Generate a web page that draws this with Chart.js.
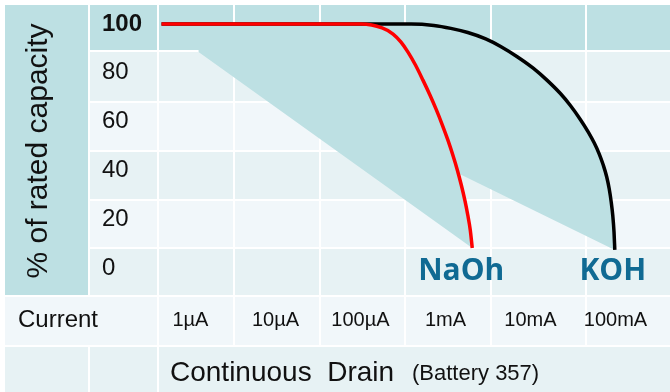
<!DOCTYPE html>
<html>
<head>
<meta charset="utf-8">
<script src="https://cdn.jsdelivr.net/npm/chart.js@4.4.1/dist/chart.umd.min.js"></script>
<style>
  html, body { margin: 0; padding: 0; background: #fff; }
</style>
</head>
<body>
<canvas id="drain-chart" width="670" height="392"></canvas>
<script>
// drain current in µA, capacity in % of rated
const seriesNames = ['NaOh', 'KOH'];
const naohCurrent = [0.33, 73.7, 129.8, 174.7, 216.7, 261.8, 320.4, 392.4, 474.1, 564.8, 664.1, 770.2, 881.7, 995.5, 1108.8, 1218.6, 1321.6, 1414, 1492];
const naohCapacity = [100, 100, 98.4, 95.9, 92.6, 88.5, 83.2, 77.0, 70.9, 64.8, 58.6, 52.5, 46.3, 40.2, 34.0, 27.9, 21.7, 15.6, 8.2];
const kohCurrent = [0.33, 284, 528, 835, 1322, 2148, 3219, 5093, 7844, 11446, 16250, 21290, 27870, 34600, 40680, 46560, 51860, 57000, 60990, 64360, 67200, 69410, 70920];
const kohCapacity = [100, 100, 99.4, 98.2, 96.5, 93.9, 90.8, 86.5, 81.8, 76.8, 71.5, 66.6, 60.9, 55.7, 51.2, 46.7, 42.2, 37.3, 32.4, 27.0, 21.3, 14.8, 7.4];

// straight lower edges of the shaded bands
const naohEdgeCurrent = [0.9, 1492];
const naohEdgeCapacity = [88.5, 8.2];
const kohEdgeCurrent = [126, 70920];
const kohEdgeCapacity = [54.3, 7.4];

const tickCurrents = [1, 10, 100, 1000, 10000, 100000];
const tickLabels = ['1µA', '10µA', '100µA', '1mA', '10mA', '100mA'];
const capacityTicks = [0, 20, 40, 60, 80, 100];

const TEAL = '#bde0e3';
const ROW_A = '#e7f2f4';
const ROW_B = '#f1f7fa';
const TEXT = '#111';
const labelShift = [-11, -2];

function pts(xs, ys) {
    return xs.map((x, i) => ({x: x, y: ys[i]}));
}

// slide-style table behind the plot
const tablePlugin = {
    id: 'table',
    beforeDraw(chart) {
        const ctx = chart.ctx;
        ctx.save();
        ctx.fillStyle = '#fff';
        ctx.fillRect(0, 0, chart.width, chart.height);

        const rows = [
            [5, 50, TEAL], [52, 101, ROW_A], [103, 150, ROW_B], [152, 199, ROW_A],
            [201, 247, ROW_B], [249, 295, ROW_A], [297, 345, ROW_B], [347, 392, ROW_A]
        ];
        rows.forEach(r => {
            ctx.fillStyle = r[2];
            ctx.fillRect(5, r[0], 665, r[1] - r[0]);
        });
        ctx.fillStyle = TEAL;
        ctx.fillRect(5, 5, 83, 290);

        ctx.fillStyle = '#fff';
        [234, 320, 405, 491, 586].forEach(x => ctx.fillRect(x - 1, 5, 2, 340));
        ctx.fillRect(157, 5, 2, 387);
        ctx.fillRect(88, 5, 2, 290);
        ctx.fillRect(88, 347, 2, 45);

        ctx.fillStyle = TEXT;
        ctx.textBaseline = 'alphabetic';

        ctx.save();
        ctx.translate(47, 151);
        ctx.rotate(-Math.PI / 2);
        ctx.textAlign = 'center';
        ctx.font = '30px "Liberation Sans"';
        ctx.fillText('% of rated capacity', 0, 0);
        ctx.restore();

        ctx.textAlign = 'left';
        ctx.font = '24px "Liberation Sans"';
        ctx.fillText('Current', 18, 327);
        ctx.font = '28px "Liberation Sans"';
        ctx.fillText('Continuous  Drain', 170, 381);
        ctx.font = '22px "Liberation Sans"';
        ctx.fillText('(Battery 357)', 412, 380);
        ctx.restore();
    },
    afterDatasetsDraw(chart) {
        const ctx = chart.ctx;
        const base = chart.scales.y.getPixelForValue(0);
        ctx.save();
        ctx.font = 'bold 30px "Open Sans"';
        ctx.fillStyle = '#106a93';
        ctx.textAlign = 'center';
        ctx.textBaseline = 'alphabetic';
        seriesNames.forEach((name, i) => {
            const data = chart.getDatasetMeta(i).data;
            const end = data[data.length - 1];
            ctx.fillText(name, end.x + labelShift[i], base + 12);
        });
        ctx.restore();
    }
};

const canvas = document.getElementById('drain-chart').getContext('2d');
new Chart(canvas, {
    type: 'line',
    data: {
        datasets: [{
            label: seriesNames[0],
            data: pts(naohCurrent, naohCapacity),
            borderColor: '#ff0000',
            borderWidth: 3.5,
            fill: {target: 2},
            backgroundColor: TEAL,
            cubicInterpolationMode: 'monotone',
            pointRadius: 0,
            clip: false
        }, {
            label: seriesNames[1],
            data: pts(kohCurrent, kohCapacity),
            borderColor: '#000',
            borderWidth: 3.5,
            fill: {target: 3},
            backgroundColor: TEAL,
            cubicInterpolationMode: 'monotone',
            pointRadius: 0,
            clip: false
        }, {
            label: 'edge1',
            data: pts(naohEdgeCurrent, naohEdgeCapacity),
            borderWidth: 0,
            borderColor: 'rgba(0,0,0,0)',
            pointRadius: 0,
            fill: false
        }, {
            label: 'edge2',
            data: pts(kohEdgeCurrent, kohEdgeCapacity),
            borderWidth: 0,
            borderColor: 'rgba(0,0,0,0)',
            pointRadius: 0,
            fill: false
        }]
    },
    options: {
        responsive: false,
        animation: false,
        layout: {padding: {left: 102, top: 24, right: 0, bottom: 0}},
        plugins: {
            legend: {display: false},
            tooltip: {enabled: false},
            filler: {drawTime: 'beforeDatasetsDraw'}
        },
        scales: {
            x: {
                type: 'logarithmic',
                min: Math.pow(10, -0.5),
                max: Math.pow(10, 5.5),
                grid: {display: false, drawTicks: false},
                border: {display: false},
                afterBuildTicks: s => { s.ticks = tickCurrents.map(v => ({value: v})); },
                afterFit: s => { s.height = 124; s.paddingLeft = 0; s.paddingRight = 0; },
                ticks: {
                    autoSkip: false,
                    maxRotation: 0,
                    padding: 40,
                    labelOffset: -12,
                    color: TEXT,
                    font: {family: 'Liberation Sans', size: 20},
                    callback: (v, i) => tickLabels[i]
                }
            },
            y: {
                min: 0,
                max: 100,
                grid: {display: false, drawTicks: false},
                border: {display: false},
                afterBuildTicks: s => { s.ticks = capacityTicks.map(v => ({value: v})); },
                afterFit: s => { s.width = 56; s.paddingTop = 0; s.paddingBottom = 0; },
                ticks: {
                    crossAlign: 'far',
                    color: TEXT,
                    font: ctx => ({
                        family: 'Liberation Sans',
                        size: 24,
                        weight: ctx.tick && ctx.tick.value === 100 ? 'bold' : 'normal'
                    })
                }
            }
        }
    },
    plugins: [tablePlugin]
});
</script>
</body>
</html>
